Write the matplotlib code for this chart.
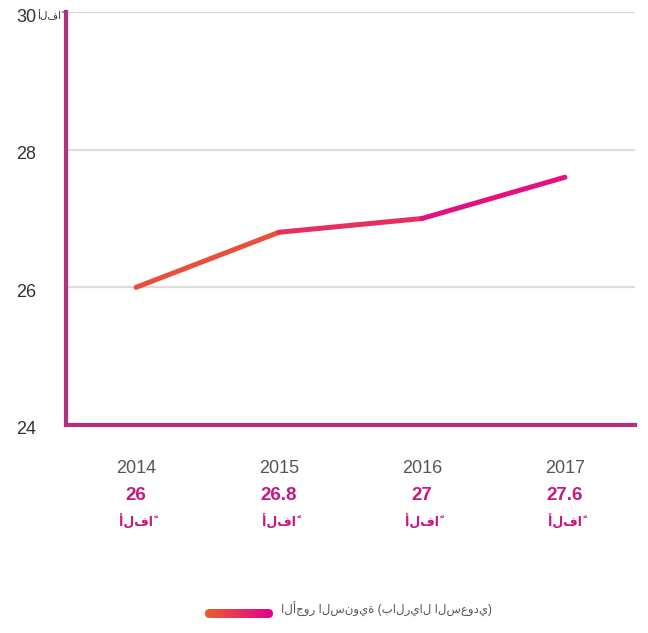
import numpy as np
import matplotlib
matplotlib.use("Agg")
import matplotlib.pyplot as plt
from matplotlib.collections import LineCollection
from matplotlib.colors import LinearSegmentedColormap
from matplotlib.patches import FancyBboxPatch
import matplotlib.transforms as mtransforms

plt.rcParams['font.family'] = ['Liberation Sans', 'DejaVu Sans']

years = ["2014", "2015", "2016", "2017"]
wages = [26.0, 26.8, 27.0, 27.6]
value_labels = ["26", "26.8", "27", "27.6"]
unit_label = "ألفاً"
yticks = [24, 26, 28, 30]
ytick_labels = ["24", "26", "28", "30"]
legend_label = "الأجور السنوية (بالريال السعودي)"

W, H = 648, 633
fig = plt.figure(figsize=(W / 100, H / 100), dpi=100)
ax = fig.add_axes([66 / W, 1 - 425 / H, (635 - 66) / W, (425 - 12) / H])

cmap = LinearSegmentedColormap.from_list("wage", ["#E95F2C", "#E4008F"])

x = np.arange(len(years))
pts = np.column_stack([x, wages])
segs = np.stack([pts[:-1], pts[1:]], axis=1)
cols = [cmap((i + 0.5) / len(segs)) for i in range(len(segs))]
lc = LineCollection(segs, colors=cols, linewidths=3.6, capstyle='round', joinstyle='round', zorder=3)
ax.add_collection(lc)

ax.set_xlim(-0.49, len(years) - 1 + 0.49)
ax.set_ylim(24, 30)
ax.set_yticks(yticks)
ax.set_yticklabels(ytick_labels)
ax.set_xticks(x)
ax.set_xticklabels(years)

for s in ["top", "right"]:
    ax.spines[s].set_visible(False)
for s in ["left", "bottom"]:
    ax.spines[s].set_color("#B2307F")
    ax.spines[s].set_linewidth(3)
    ax.spines[s].set_zorder(4)

ax.grid(axis='y', color="#DCDCDC", linewidth=1.6)
ax.grid(axis='x', visible=False)
ax.set_axisbelow(True)

ax.tick_params(axis='y', length=0, pad=21.6, labelsize=13, labelcolor="#333333")
ax.tick_params(axis='x', length=0, pad=25, labelsize=13, labelcolor="#555555")

shift = mtransforms.ScaledTranslation(0, -3 / 100, fig.dpi_scale_trans)
for lab in ax.get_yticklabels():
    lab.set_transform(lab.get_transform() + shift)

# unit next to top tick
ax.annotate(unit_label, xy=(0, 30), xycoords=('axes fraction', 'data'),
            xytext=(-20.5, -2.5), textcoords='offset points', ha='left', va='center',
            fontsize=7.5, color="#333333")

trans = mtransforms.blended_transform_factory(ax.transData, ax.transAxes)
for xi, lab in zip(x, value_labels):
    ax.annotate(lab, xy=(xi, 0), xycoords=trans, xytext=(0, -51), textcoords='offset points',
                ha='center', va='center', fontsize=13.5, fontweight='bold', color="#C8177F")
    ax.annotate(unit_label, xy=(xi, 0), xycoords=trans, xytext=(0, -70), textcoords='offset points',
                ha='center', va='center', fontsize=9, fontweight='bold', color="#C8177F")

# legend
lax = fig.add_axes([205 / W, 1 - 618 / H, 68 / W, 9 / H])
lax.set_xlim(0, 68)
lax.set_ylim(0, 9)
lax.axis('off')
im = lax.imshow(np.linspace(0, 1, 256)[None, :], cmap=cmap, aspect='auto', extent=[0, 68, 0, 9])
pill = FancyBboxPatch((0, 0), 68, 9, boxstyle="round,pad=0,rounding_size=4.5",
                      transform=lax.transData, facecolor='none', edgecolor='none')
lax.add_patch(pill)
im.set_clip_path(pill)

fig.text(492 / W, 1 - 609 / H, legend_label, ha='right', va='center', fontsize=8.5,
         color="#555555")

fig.savefig("out.png", dpi=100)
